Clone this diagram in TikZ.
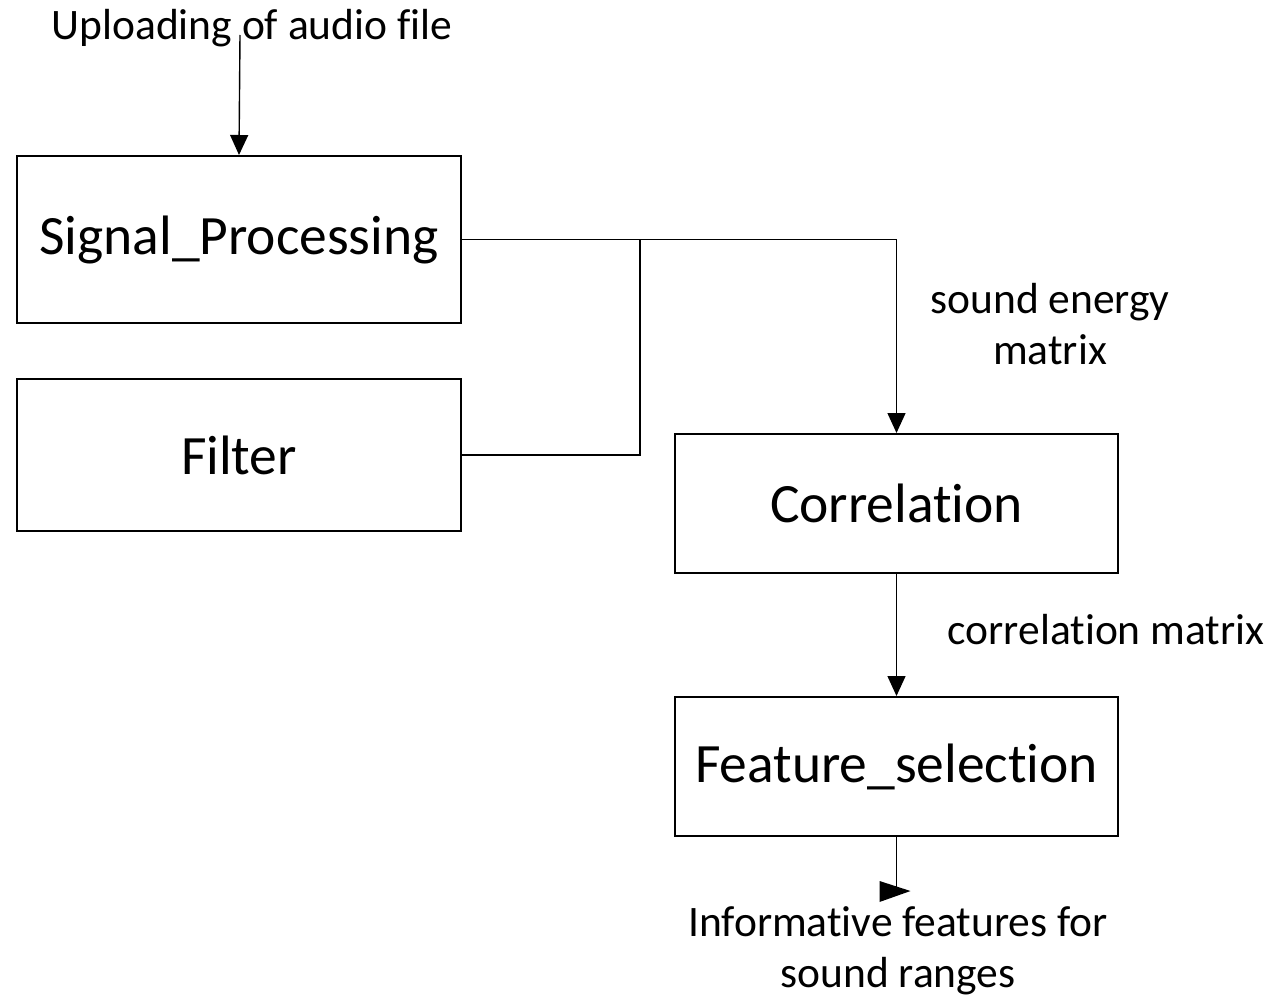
\documentclass[tikz,border=0pt]{standalone}
\usepackage{fontspec}
\setmainfont{Carlito}[Ligatures=CommonOff]
\usetikzlibrary{arrows.meta}
\begin{document}
\begin{tikzpicture}[x=1pt,y=-1pt,
  blk/.style={draw, line width=2pt, minimum width=444pt, inner sep=0pt, font=\fontsize{55.5}{64}\selectfont},
  lbl/.style={inner sep=0pt, align=center, font=\fontsize{43.5}{51}\selectfont},
  conn/.style={line width=1.4pt},
  arr/.style={conn, -{Triangle[length=20pt,width=18pt]}}]
\useasboundingbox (0,0) rectangle (1274,998);
\node[blk, minimum height=167pt] (sig) at (239,239.5) {Signal\_Processing};
\node[blk, minimum height=152pt] (filt) at (239,455) {Filter};
\node[blk, minimum width=443pt, minimum height=139pt] (corr) at (896.5,503.5) {Correlation};
\node[blk, minimum width=443pt, minimum height=139pt] (feat) at (896.5,766.5) {Feature\_selection};
\node[lbl] (up) at (252,28) {Uploading of audio file};
\node[lbl] (sem) at (1050,324) {sound energy\\matrix};
\node[lbl] (cm) at (1106,630) {correlation matrix};
\node[lbl] (inf) at (898,951) {Informative features for\\sound ranges};
\coordinate (upend) at (240,35);
\coordinate (j) at (640,239.5);
\coordinate (fend) at (896.5,891);
\draw[arr] (upend) -- (sig.north);
\draw[arr] (sig.east) -| (corr.north);
\draw[conn] (filt.east) -| (j);
\draw[arr] (corr.south) -- (feat.north);
\draw[conn] (feat.south) -- (fend);
\fill ([shift={(-17,-10)}]fend) -- ([shift={(14,0)}]fend) -- ([shift={(-17,11)}]fend) -- cycle;
\end{tikzpicture}
\end{document}
